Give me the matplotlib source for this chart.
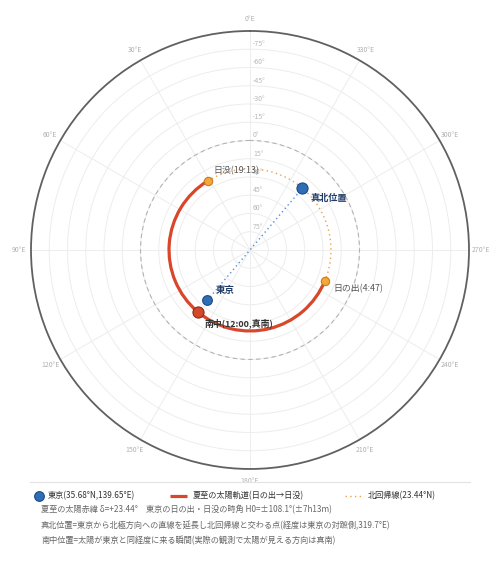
import matplotlib
matplotlib.use('Agg')
import matplotlib.pyplot as plt
import numpy as np
from matplotlib.lines import Line2D
from matplotlib.transforms import offset_copy

plt.rcParams['font.family'] = ['Noto Sans CJK JP', 'DejaVu Sans']

# --- data ---
tokyo_lat = 35.68
tokyo_lon = 139.65
tropic_lat = 23.44
hour_angle = 108.1          # H0 at sunrise / sunset
true_north_lon = 319.7
sunrise_lon = tokyo_lon + hour_angle   # 247.75
sunset_lon = tokyo_lon - hour_angle    # 31.55
noon_lon = tokyo_lon

lon_ticks = list(range(0, 360, 30))
lon_labels = [f'{v}°E' for v in lon_ticks]
lat_ticks = [75, 60, 45, 30, 15, 0, -15, -30, -45, -60, -75]

legend_labels = ['東京(35.68°N,139.65°E)', '夏至の太陽軌道(日の出→日没)', '北回帰線(23.44°N)']
note_lines = [
    '夏至の太陽赤緯 δ=+23.44°　東京の日の出・日没の時角 H0=±108.1°(±7h13m)',
    '真北位置=東京から北極方向への直線を延長し北回帰線と交わる点(経度は東京の対蹠側,319.7°E)',
    '南中位置=太陽が東京と同経度に来る瞬間(実際の観測で太陽が見える方向は真南)',
]


def rad(lon):
    return np.deg2rad(lon)


def colat(lat):
    # north pole at centre, south pole at the rim
    return 90 - lat


def as_arc(line):
    # let the polar transform draw constant-radius segments as arcs
    line.get_path()._interpolation_steps = 180
    return line


fig = plt.figure(figsize=(5, 5.66), dpi=100)
ax = fig.add_axes([0.062, 0.1714, 0.876, 0.7739], projection='polar')
ax.set_theta_zero_location('N')
ax.set_theta_direction(1)
ax.set_ylim(0, 180)

ax.set_xticks(rad(np.array(lon_ticks)))
ax.set_xticklabels(lon_labels, fontsize=5, color='#b0b0b0')
ax.tick_params(axis='x', pad=-2)
ax.set_yticks([colat(l) for l in lat_ticks])
ax.set_yticklabels([])
ax.grid(True, color='#ededed', lw=0.7)
ax.spines['polar'].set_color('#606060')
ax.spines['polar'].set_linewidth(1.3)

lbl_tr = offset_copy(ax.transData, fig=fig, x=3, y=1, units='dots')
for lat in lat_ticks:
    ax.text(0, colat(lat), f'{lat}°', transform=lbl_tr, fontsize=5,
            color='#b8b8b8', ha='left', va='bottom', zorder=1)

# equator
as_arc(ax.plot(rad(np.array([0, 180, 360])), [colat(0)] * 3,
               color='#b4b4b4', lw=0.8, ls=(0, (4, 3)), zorder=2)[0])

# tropic of cancer (night side)
tropic_lons = np.array([sunset_lon, true_north_lon - 360, sunrise_lon - 360])
tropic_line = as_arc(ax.plot(rad(tropic_lons), [colat(tropic_lat)] * 3,
                             color='#e9a34e', lw=1.0, ls=(0, (1, 2.4)),
                             label=legend_labels[2], zorder=3)[0])

# sun path (day side)
path_lons = np.array([sunrise_lon, noon_lon, sunset_lon])
sun_line = as_arc(ax.plot(rad(path_lons), [colat(tropic_lat)] * 3,
                          color='#d9472b', lw=2.3, label=legend_labels[1],
                          solid_capstyle='butt', zorder=4)[0])

# Tokyo -> pole -> true north
ax.plot(rad(np.array([tokyo_lon, true_north_lon])),
        [colat(tokyo_lat), colat(tropic_lat)],
        color='#5b8fd8', lw=1.0, ls=(0, (1, 2.2)), zorder=3)

tokyo_mk = ax.plot(rad(tokyo_lon), colat(tokyo_lat), 'o', ms=7,
                   color='#2f6db5', mec='#1d4a85', mew=0.8,
                   label=legend_labels[0], zorder=6)[0]
ax.plot(rad(true_north_lon), colat(tropic_lat), 'o', ms=8,
        color='#2f6db5', mec='#1d4a85', mew=0.8, zorder=6)
ax.plot(rad(noon_lon), colat(tropic_lat), 'o', ms=8,
        color='#d24a2a', mec='#8c2c16', mew=0.8, zorder=6)
ax.plot(rad(np.array([sunrise_lon, sunset_lon])), [colat(tropic_lat)] * 2,
        'o', ms=6, color='#f2a93b', mec='#c97a1e', mew=0.8, ls='none', zorder=6)


def note(lon, lat, text, dx, dy, **kw):
    tr = offset_copy(ax.transData, fig=fig, x=dx, y=dy, units='dots')
    ax.text(rad(lon), colat(lat), text, transform=tr, ha='left',
            va='center', zorder=7, **kw)


note(sunset_lon, tropic_lat, '日没(19:13)', 6, 10, fontsize=6.4, color='#555555')
note(sunrise_lon, tropic_lat, '日の出(4:47)', 8, -8, fontsize=6.4, color='#555555')
note(true_north_lon, tropic_lat, '真北位置', 8, -10, fontsize=6.6,
     color='#1f3b66', fontweight='bold')
note(tokyo_lon, tokyo_lat, '東京', 9, 10, fontsize=6.8,
     color='#1f3b66', fontweight='bold')
note(noon_lon, tropic_lat, '南中(12:00,真南)', 7, -11, fontsize=6.4,
     color='#333333', fontweight='bold')

fig.add_artist(Line2D([0.06, 0.94], [1 - 482 / 566] * 2, color='#e2e2e2', lw=0.8))

# one legend per entry so the gaps match the reference
leg_y = 1 - 496 / 566
leg_specs = [
    (tokyo_mk, 34 / 500, 1.2, 0.45),
    (sun_line, 170 / 500, 2.1, 0.7),
    (tropic_line, 345 / 500, 2.3, 0.5),
]
for handle, x0, hl, tp in leg_specs:
    fig.legend(handles=[handle], loc='center left',
               bbox_to_anchor=(x0, leg_y), frameon=False,
               fontsize=5.9, labelcolor='#333333', handlelength=hl,
               handletextpad=tp, borderaxespad=0, borderpad=0)

for i, line in enumerate(note_lines):
    fig.text(41 / 500, 1 - (510 + i * 15.5) / 566, line, fontsize=5.9,
             color='#666666', ha='left', va='center')

fig.savefig('out.png', dpi=100)
